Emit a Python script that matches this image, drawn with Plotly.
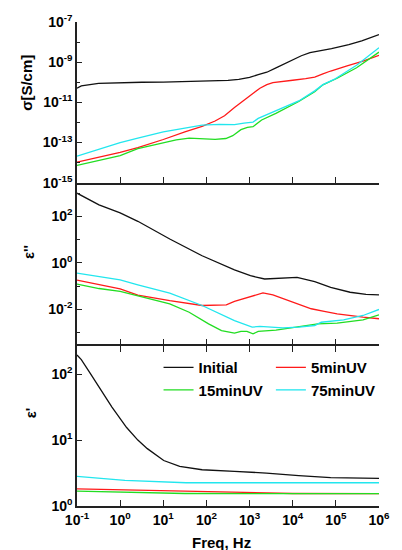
import plotly.graph_objects as go

# ---- conductivity sigma [S/cm] : (log10 f, log10 sigma) ----
sig_init_logf = [-1, -0.9, -0.5, 0, 0.5, 1, 1.5, 2, 2.5, 2.75, 3.0, 3.2, 3.4, 3.6, 3.8, 4.0, 4.2, 4.4, 4.6, 4.9, 5.3, 5.6, 6.0]
sig_init_log = [-10.30, -10.18, -10.06, -10.02, -10.0, -9.99, -9.97, -9.95, -9.91, -9.86, -9.76, -9.62, -9.50, -9.30, -9.09, -8.86, -8.68, -8.53, -8.45, -8.33, -8.13, -7.94, -7.63]

sig_5_logf = [-1, 0, 0.41, 1.0, 1.5, 1.9, 2.2, 2.42, 2.65, 2.94, 3.1, 3.24, 3.4, 3.54, 3.75, 4.0, 4.3, 4.51, 4.7, 4.88, 5.26, 5.63, 6.0]
sig_5_log = [-13.98, -13.49, -13.25, -12.85, -12.47, -12.20, -11.93, -11.67, -11.26, -10.76, -10.52, -10.30, -10.12, -10.02, -9.95, -9.90, -9.82, -9.74, -9.58, -9.44, -9.19, -8.95, -8.66]

sig_15_logf = [-1, 0, 0.41, 1.0, 1.3, 1.6, 2.0, 2.2, 2.45, 2.61, 2.8, 2.95, 3.08, 3.28, 3.61, 4.14, 4.51, 4.7, 5.03, 5.48, 6.0]
sig_15_log = [-14.14, -13.65, -13.30, -13.0, -12.87, -12.78, -12.80, -12.84, -12.80, -12.66, -12.36, -12.25, -12.21, -11.88, -11.55, -10.96, -10.47, -10.13, -9.80, -9.28, -8.50]

sig_75_logf = [-1, 0, 0.41, 1.0, 1.3, 1.9, 2.3, 2.65, 2.87, 3.08, 3.2, 3.61, 4.14, 4.51, 4.7, 4.96, 5.48, 6.0]
sig_75_log = [-13.68, -13.0, -12.78, -12.47, -12.36, -12.13, -12.10, -12.11, -12.03, -11.98, -11.80, -11.42, -10.93, -10.43, -10.12, -9.86, -9.15, -8.28]

# ---- dielectric loss eps'' : (log10 f, log10 eps'') ----
epp_init_logf = [-1, -0.71, -0.49, 0, 0.41, 1.15, 1.9, 2.65, 3.02, 3.35, 3.77, 4.1, 4.51, 4.88, 5.33, 5.7, 6.0]
epp_init_log = [3.0, 2.72, 2.50, 2.15, 1.79, 1.03, 0.31, -0.30, -0.55, -0.69, -0.64, -0.62, -0.80, -1.05, -1.26, -1.35, -1.37]

epp_5_logf = [-1, 0, 0.41, 1.15, 1.9, 2.46, 2.65, 2.94, 3.31, 3.54, 3.99, 4.43, 4.73, 5.03, 5.63, 6.0]
epp_5_log = [-0.74, -1.12, -1.38, -1.62, -1.83, -1.80, -1.65, -1.50, -1.29, -1.37, -1.69, -1.97, -2.08, -2.19, -2.33, -2.40]

epp_15_logf = [-1, -0.49, 0, 0.41, 1.15, 1.6, 2.05, 2.35, 2.65, 2.8, 2.94, 3.08, 3.2, 3.61, 4.14, 4.58, 5.03, 5.63, 6.0]
epp_15_log = [-0.91, -1.10, -1.22, -1.42, -1.76, -2.12, -2.62, -2.91, -3.02, -2.94, -2.94, -3.05, -2.94, -2.89, -2.76, -2.62, -2.59, -2.45, -2.23]

epp_75_logf = [-1, 0, 0.41, 1.15, 1.9, 2.28, 2.65, 3.06, 3.24, 3.77, 4.14, 4.51, 4.66, 5.18, 5.63, 6.0]
epp_75_log = [-0.44, -0.73, -0.94, -1.30, -1.83, -2.16, -2.48, -2.76, -2.73, -2.79, -2.76, -2.69, -2.55, -2.45, -2.26, -2.00]

# ---- permittivity eps' : (log10 f, log10 eps') ----
ep_init_logf = [-1, -0.9, -0.73, -0.49, -0.19, 0.15, 0.41, 0.63, 1.01, 1.38, 1.9, 2.65, 3.39, 4.14, 4.88, 6.0]
ep_init_log = [2.29, 2.22, 2.05, 1.80, 1.50, 1.19, 1.0, 0.87, 0.69, 0.60, 0.55, 0.524, 0.50, 0.46, 0.43, 0.42]

ep_5_logf = [-1, 1.5, 3.5, 4.0, 6.0]
ep_5_log = [0.26, 0.222, 0.20, 0.19, 0.187]

ep_15_logf = [-1, 1.5, 6.0]
ep_15_log = [0.227, 0.19, 0.187]

ep_75_logf = [-1, 0.11, 1.53, 6.0]
ep_75_log = [0.449, 0.388, 0.353, 0.353]

series_names = ["Initial", "5minUV", "15minUV", "75minUV"]
series_colors = ["#111111", "#ff1a1a", "#22dd22", "#22e6ee"]

panels = [
    ("x", "y", [(sig_init_logf, sig_init_log), (sig_5_logf, sig_5_log),
                (sig_15_logf, sig_15_log), (sig_75_logf, sig_75_log)]),
    ("x2", "y2", [(epp_init_logf, epp_init_log), (epp_5_logf, epp_5_log),
                  (epp_15_logf, epp_15_log), (epp_75_logf, epp_75_log)]),
    ("x3", "y3", [(ep_init_logf, ep_init_log), (ep_5_logf, ep_5_log),
                  (ep_15_logf, ep_15_log), (ep_75_logf, ep_75_log)]),
]

fig = go.Figure()
for xa, ya, curves in panels:
    for i, (lf, lv) in enumerate(curves):
        show = xa == "x3"
        fig.add_trace(go.Scatter(
            x=[10 ** v for v in lf], y=[10 ** v for v in lv],
            mode="lines", name=series_names[i],
            line=dict(color=series_colors[i], width=1.3),
            xaxis=xa, yaxis=ya, showlegend=show,
            legend="legend" if i in (0, 2) else "legend2",
        ))

FONT = "Liberation Sans, Arial, sans-serif"
tick_font = dict(family=FONT, size=14, color="black", weight="bold")


def sup_label(e):
    return f"10<sup>{e}</sup>"


def xaxis(anchor, labels, mirror=False):
    decades = list(range(-1, 7))
    return dict(
        type="log", range=[-1, 6], anchor=anchor,
        tickvals=[10 ** d for d in decades],
        ticktext=[sup_label(d) for d in decades],
        showticklabels=labels, ticks="inside", ticklen=6, tickwidth=1.3,
        tickcolor="#222", showline=True, linecolor="#222", linewidth=1.5,
        showgrid=False, zeroline=False, tickfont=tick_font,
        mirror="ticks" if mirror else False,
    )


def yaxis(domain, rng, major, minor):
    return dict(
        type="log", range=rng, domain=domain,
        tickvals=[10 ** d for d in major],
        ticktext=[sup_label(d) for d in major],
        ticks="inside", ticklen=5, tickwidth=1.3, tickcolor="#222",
        minor=dict(tickvals=[10 ** d for d in minor], ticks="inside",
                   ticklen=3, tickwidth=1.2, tickcolor="#222", showgrid=False),
        showline=True, linecolor="#222", linewidth=1.5,
        showgrid=False, zeroline=False, tickfont=tick_font,
    )


legend_font = dict(family=FONT, size=15, color="black", weight="bold")

fig.update_layout(
    width=402, height=550,
    margin=dict(l=77, r=12, t=21, b=44),
    paper_bgcolor="white", plot_bgcolor="white",
    font=dict(family=FONT, color="black"),
    xaxis=xaxis("y", False),
    xaxis2=xaxis("y2", False),
    xaxis3=xaxis("y3", True, mirror=True),
    yaxis=yaxis([0.668, 1.0], [-15, -7], [-7, -9, -11, -13, -15], [-8, -10, -12, -14]),
    yaxis2=yaxis([0.334, 0.668], [-3.5, 3.45], [2, 0, -2], [3, 1, -1, -3]),
    # bottom panel top edge sits under the middle panel's base line
    yaxis3=yaxis([0.0, 0.331], [0, 2.43], [0, 1, 2], []),
    legend=dict(x=0.27, y=0.32, xanchor="left", yanchor="top",
                bgcolor="rgba(0,0,0,0)", tracegroupgap=0, font=legend_font),
    legend2=dict(x=0.642, y=0.32, xanchor="left", yanchor="top",
                 bgcolor="rgba(0,0,0,0)", tracegroupgap=0, font=legend_font),
    showlegend=True,
)

title_font = dict(family=FONT, size=15, color="black", weight="bold")
for text, x, y in [("σ[S/cm]", -0.166, 0.874), ("ε''", -0.16, 0.524), ("ε'", -0.155, 0.192)]:
    fig.add_annotation(text=text, xref="paper", yref="paper", x=x, y=y,
                       xanchor="center", yanchor="middle", textangle=-90,
                       showarrow=False, font=title_font)

fig.add_annotation(text="Freq, Hz", xref="paper", yref="paper", x=0.478, y=-0.076,
                   xanchor="center", yanchor="middle", showarrow=False,
                   font=title_font)

fig.write_html("out.html")
